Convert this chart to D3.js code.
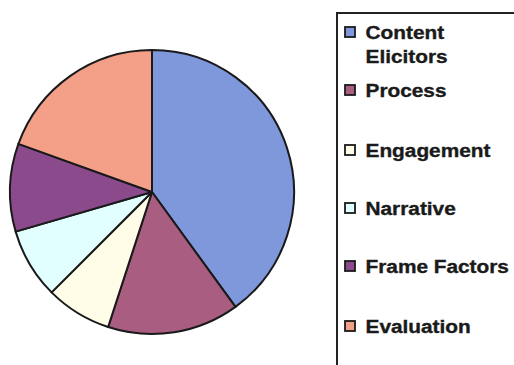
<!DOCTYPE html>
<html><head><meta charset="utf-8">
<script src="https://cdn.jsdelivr.net/npm/d3@7"></script>
<style>html,body{margin:0;padding:0;background:#fff;}svg{display:block;}</style>
</head><body>
<svg id="c" width="514" height="365"></svg>
<script>
const categories = ["Content Elicitors","Process","Engagement","Narrative","Frame Factors","Evaluation"];
const legendLines = [["Content","Elicitors"],["Process"],["Engagement"],["Narrative"],["Frame Factors"],["Evaluation"]];
const values = [40, 15, 7.5, 8, 10, 19.5];
const colors = ["#7f98dc","#a95d80","#fffde8","#e2ffff","#8b4a8c","#f4a088"];

const svg = d3.select("#c");
const cx = 152, cy = 192, r = 142;
const pie = d3.pie().sort(null).value(d => d)(values);
const arc = d3.arc().innerRadius(0).outerRadius(r);
const g = svg.append("g").attr("transform", `translate(${cx},${cy})`);
g.selectAll("path").data(pie).join("path")
  .attr("d", arc)
  .attr("fill", (d,i) => colors[i])
  .attr("stroke", "#1a1a1a").attr("stroke-width", 2).attr("stroke-linejoin","round");

// legend box
svg.append("path").attr("d","M337,366 L337,13 L520,13")
  .attr("fill","none").attr("stroke","#222").attr("stroke-width",2);

const baselines = [39, 97, 157, 215, 273, 333];
const lg = svg.append("g");
categories.forEach((c,i) => {
  const b = baselines[i];
  lg.append("rect").attr("x",345).attr("y",b-12).attr("width",10).attr("height",10)
    .attr("fill",colors[i]).attr("stroke","#1a1a1a").attr("stroke-width",1.8);
  legendLines[i].forEach((t,j) => {
    lg.append("text")
      .attr("transform",`translate(365.5,${b + j*24}) scale(1.17,1)`)
      .attr("font-family","Liberation Sans, Arial, sans-serif")
      .attr("font-weight","bold").attr("font-size","17.8px").attr("fill","#1a1a1a")
      .attr("stroke","#1a1a1a").attr("stroke-width",0.35)
      .text(t);
  });
});
</script>
</body></html>
